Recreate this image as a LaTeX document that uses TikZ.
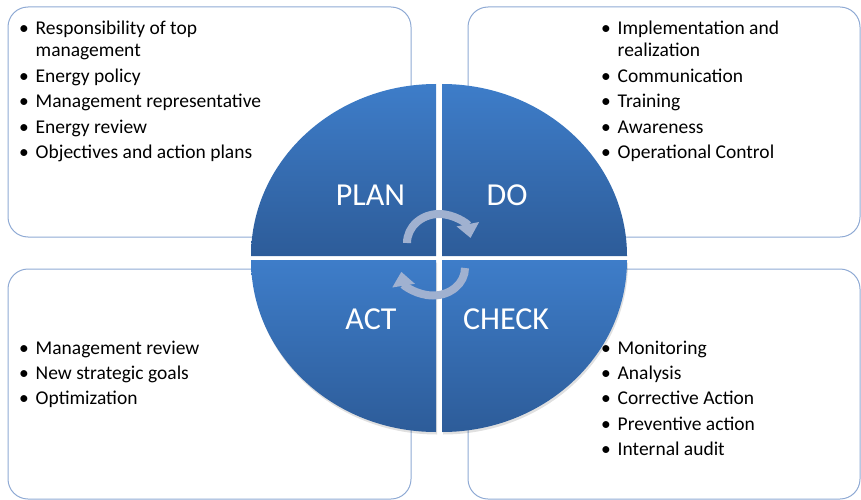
\documentclass[tikz,border=0pt]{standalone}
\usepackage{fontspec}
\setmainfont{Carlito}
\usetikzlibrary{arrows.meta}

\definecolor{boxline}{RGB}{143,170,212}
\definecolor{quadtop}{RGB}{62,125,201}
\definecolor{quadbot}{RGB}{45,92,153}
\definecolor{cyclegrey}{RGB}{160,177,208}

\newcommand\bul{\makebox[16.5pt][l]{\textbullet}}

\begin{document}
\begin{tikzpicture}[x=1pt,y=1pt,
  infobox/.style={draw=boxline, line width=1pt, rounded corners=20pt},
  quadrant/.style={top color=quadtop, bottom color=quadbot},
  itemlist/.style={anchor=base west, inner sep=0pt, font=\fontsize{19.5}{22.5}\selectfont},
  phase/.style={anchor=base, inner sep=0pt, text=white, font=\fontsize{32}{36}\selectfont},
  cyclearrow/.style={draw=cyclegrey, line width=8pt, -{Triangle[width=22pt,length=14pt]}}]

  \useasboundingbox (0,0) rectangle (861,-500);

  % the four boxes
  \draw[infobox] (8,-7) rectangle (411,-237);
  \draw[infobox] (468,-7) rectangle (860,-237);
  \draw[infobox] (8,-269) rectangle (411,-499);
  \draw[infobox] (468,-269) rectangle (860,-499);

  % shadow under the lower half
  \foreach \cx/\cy/\a in {436/-260/180, 442/-260/270}
    \fill[black, opacity=0.12] (\cx+1,\cy-2.5) -- ++(\a:185 and 172)
      arc[start angle=\a, delta angle=90, x radius=185, y radius=172] -- cycle;

  % the circle in four parts
  \foreach \cx/\cy/\a in {436/-256/90, 442/-256/0, 436/-260/180, 442/-260/270}
    \shade[quadrant] (\cx,\cy) -- ++(\a:185 and 172)
      arc[start angle=\a, delta angle=90, x radius=185, y radius=172] -- cycle;

  \node[phase] (plan) at (370.5,-205) {PLAN};
  \node[phase] (do) at (507,-205) {DO};
  \node[phase] (act) at (371,-329) {ACT};
  \node[phase] (check) at (506,-329) {CHECK};

  % cycle arrows
  \draw[cyclearrow] (407,-243) arc[start angle=180, end angle=10, x radius=32, y radius=29];
  \draw[cyclearrow] (465,-268) arc[start angle=0, end angle=-172, x radius=32, y radius=27.5];

  % lists
  \node[itemlist] (planlist) at (19,-34.5) {\begin{tabular}[t]{@{}l@{}l@{}}
    \bul & Responsibility of top\\
         & management\\[3pt]
    \bul & Energy policy\\[3pt]
    \bul & Management representative\\[3pt]
    \bul & Energy review\\[3pt]
    \bul & Objectives and action plans
  \end{tabular}};

  \node[itemlist] (dolist) at (601,-34.5) {\begin{tabular}[t]{@{}l@{}l@{}}
    \bul & Implementation and\\
         & realization\\[3pt]
    \bul & Communication\\[3pt]
    \bul & Training\\[3pt]
    \bul & Awareness\\[3pt]
    \bul & Operational Control
  \end{tabular}};

  \node[itemlist] (actlist) at (19,-354.5) {\begin{tabular}[t]{@{}l@{}l@{}}
    \bul & Management review\\[2.5pt]
    \bul & New strategic goals\\[2.5pt]
    \bul & Optimization
  \end{tabular}};

  \node[itemlist] (checklist) at (601,-354.5) {\begin{tabular}[t]{@{}l@{}l@{}}
    \bul & Monitoring\\[2.5pt]
    \bul & Analysis\\[2.5pt]
    \bul & Corrective Action\\[3pt]
    \bul & Preventive action\\[3pt]
    \bul & Internal audit
  \end{tabular}};

\end{tikzpicture}
\end{document}
